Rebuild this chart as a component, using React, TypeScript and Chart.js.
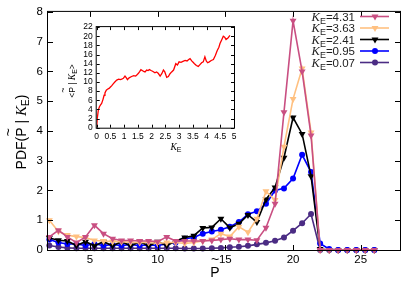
import React, { useEffect, useRef } from "react";
import { Chart, registerables } from "chart.js";
Chart.register(...registerables);

// ---------- data ----------
const pTilde = [2, 2.67, 3.33, 4, 4.67, 5.33, 6, 6.67, 7.33, 8, 8.67, 9.33, 10, 10.67, 11.33, 12, 12.67, 13.33, 14, 14.67, 15.33, 16, 16.67, 17.33, 18, 18.67, 19.33, 20, 20.67, 21.33, 22, 22.67, 23.33, 24, 24.67, 25.33, 26];

const kLabels = ["4.31", "3.63", "2.41", "0.95", "0.07"];

const pdfK431 = [0.44, 0.66, 0.44, 0.25, 0.44, 0.83, 0.55, 0.38, 0.32, 0.32, 0.3, 0.3, 0.28, 0.44, 0.3, 0.3, 0.3, 0.3, 0.32, 0.35, 0.38, 0.35, 0.35, 0.33, 0.75, 1.55, 4.63, 7.7, 6.0, 3.85, 0, 0, 0, 0, 0, 0, 0];
const pdfK363 = [1.0, 0.62, 0.5, 0.45, 0.42, 0.32, 0.3, 0.28, 0.28, 0.25, 0.25, 0.25, 0.22, 0.25, 0.25, 0.22, 0.25, 0.3, 0.35, 0.55, 0.45, 0.78, 0.6, 1.05, 1.97, 1.68, 3.47, 5.07, 6.1, 3.95, 0, 0, 0, 0, 0, 0, 0];
const pdfK241 = [0.4, 0.33, 0.3, 0.15, 0.28, 0.14, 0.28, 0.14, 0.28, 0.14, 0.28, 0.14, 0.28, 0.15, 0.3, 0.42, 0.48, 0.74, 0.76, 1.05, 0.75, 0.88, 1.18, 0.94, 1.7, 2.1, 3.1, 4.45, 3.9, 2.48, 0.03, 0, 0, 0, 0, 0, 0];
const pdfK095 = [0.35, 0.25, 0.2, 0.2, 0.15, 0.2, 0.15, 0.18, 0.15, 0.18, 0.15, 0.17, 0.15, 0.2, 0.25, 0.38, 0.42, 0.55, 0.62, 0.68, 0.78, 0.94, 1.2, 1.3, 1.55, 2.0, 2.07, 2.4, 3.2, 2.62, 0.22, 0.03, 0, 0, 0, 0, 0];
const pdfK007 = [0.15, 0.1, 0.07, 0.06, 0.06, 0.06, 0.06, 0.06, 0.06, 0.06, 0.06, 0.06, 0.06, 0.06, 0.06, 0.05, 0.05, 0.05, 0.06, 0.07, 0.09, 0.11, 0.14, 0.19, 0.24, 0.31, 0.42, 0.65, 0.9, 1.21, 0, 0, 0, 0, 0, 0, 0];

const xTicks = [5, 10, 15, 20, 25];
const yTicks = [0, 1, 2, 3, 4, 5, 6, 7, 8];

const insetK = [
  0, 0.02, 0.06, 0.1, 0.14, 0.18, 0.23, 0.27, 0.3, 0.35,
  0.39, 0.45, 0.5, 0.55, 0.6, 0.66, 0.73, 0.8, 0.86, 0.91,
  0.97, 1.03, 1.08, 1.12, 1.18, 1.27, 1.35, 1.42, 1.46, 1.52,
  1.57, 1.61, 1.66, 1.71, 1.76, 1.82, 1.87, 1.92, 1.98, 2.05,
  2.12, 2.18, 2.24, 2.31, 2.37, 2.43, 2.48, 2.55, 2.61, 2.67,
  2.73, 2.8, 2.88, 2.94, 3.0, 3.07, 3.14, 3.22, 3.29, 3.35,
  3.4, 3.46, 3.51, 3.56, 3.63, 3.7, 3.76, 3.82, 3.88, 3.94,
  3.99, 4.04, 4.1, 4.17, 4.25, 4.32, 4.39, 4.45, 4.49, 4.55,
  4.61, 4.66, 4.71, 4.78, 4.85,
];
const insetP = [
  0, 2.0, 3.9, 4.6, 5.0, 5.3, 6.2, 7.1, 7.6, 8.2,
  8.4, 8.6, 8.9, 9.2, 9.6, 10.0, 10.4, 10.6, 10.5, 10.6,
  10.8, 11.3, 10.9, 10.5, 10.9, 11.2, 11.4, 11.3, 11.5, 11.9,
  12.3, 12.7, 12.5, 12.3, 12.2, 12.6, 12.5, 12.7, 12.5, 12.3,
  12.0, 12.2, 11.9, 11.3, 11.8, 12.6, 12.2, 11.0, 11.2, 11.8,
  12.2, 12.6, 14.0, 13.7, 14.4, 14.3, 14.5, 14.7, 14.6, 14.9,
  15.1, 14.6, 14.3, 14.0, 13.6, 13.4, 13.8, 14.2, 14.4, 15.5,
  14.6, 14.2, 14.4, 14.7, 14.9, 15.8, 16.9, 17.6, 18.4, 19.2,
  20.0, 19.8, 19.3, 19.6, 20.2,
];
const insetXTicks = [0, 0.5, 1, 1.5, 2, 2.5, 3, 3.5, 4, 4.5, 5];
const insetYTicks = [0, 2, 4, 6, 8, 10, 12, 14, 16, 18, 20, 22];

// ---------- styling ----------
const SANS = '"Liberation Sans", Arial, sans-serif';
const SERIF = '"Liberation Serif", "Times New Roman", serif';

const seriesStyle = [
  { color: "#c94f82", tri: true },
  { color: "#ffc080", tri: true },
  { color: "#000000", tri: true },
  { color: "#0000ff", tri: false },
  { color: "#4b2c84", tri: false },
];
const seriesData = [pdfK431, pdfK363, pdfK241, pdfK095, pdfK007];

type Seg = { t: string; size: number; family?: string; italic?: boolean; dy?: number; tilde?: boolean };

function fontOf(s: Seg) {
  return `${s.italic ? "italic " : ""}${s.size}px ${s.family || SANS}`;
}
function segsWidth(ctx: CanvasRenderingContext2D, segs: Seg[]) {
  let w = 0;
  for (const s of segs) {
    ctx.font = fontOf(s);
    w += ctx.measureText(s.t).width;
  }
  return w;
}
function drawSegs(ctx: CanvasRenderingContext2D, segs: Seg[], x: number, y: number) {
  let cx = x;
  ctx.textAlign = "left";
  ctx.textBaseline = "alphabetic";
  for (const s of segs) {
    ctx.font = fontOf(s);
    const w = ctx.measureText(s.t).width;
    ctx.fillText(s.t, cx, y + (s.dy || 0));
    if (s.tilde) {
      const tw = ctx.measureText("~").width;
      ctx.fillText("~", cx + (w - tw) / 2, y - s.size * 0.95);
    }
    cx += w;
  }
}

function drawMarker(ctx: CanvasRenderingContext2D, x: number, y: number, tri: boolean, color: string) {
  ctx.fillStyle = color;
  ctx.beginPath();
  if (tri) {
    const r = 4;
    ctx.moveTo(x, y + r);
    ctx.lineTo(x - r * 0.866, y - r * 0.5);
    ctx.lineTo(x + r * 0.866, y - r * 0.5);
    ctx.closePath();
  } else {
    ctx.arc(x, y, 3, 0, Math.PI * 2);
  }
  ctx.fill();
}

const mainPlugin = {
  id: "mainDecor",
  afterDraw(chart: any) {
    const { ctx, chartArea: a, scales } = chart;
    const xs = scales.x;
    const ys = scales.y;
    ctx.save();
    ctx.strokeStyle = "#000";
    ctx.lineWidth = 1;
    ctx.strokeRect(a.left - 0.5, a.top - 0.5, a.right - a.left + 1, a.bottom - a.top + 1);
    ctx.beginPath();
    for (const v of yTicks) {
      const py = Math.round(ys.getPixelForValue(v)) + 0.5;
      ctx.moveTo(a.left, py); ctx.lineTo(a.left + 5, py);
      ctx.moveTo(a.right, py); ctx.lineTo(a.right - 5, py);
    }
    for (const v of xTicks) {
      const px = Math.round(xs.getPixelForValue(v)) + 0.5;
      ctx.moveTo(px, a.bottom); ctx.lineTo(px, a.bottom - 5);
      ctx.moveTo(px, a.top); ctx.lineTo(px, a.top + 5);
    }
    ctx.stroke();

    // x title
    ctx.fillStyle = "#000";
    const xt: Seg[] = [{ t: "P", size: 14, tilde: true }];
    drawSegs(ctx, xt, 215 - segsWidth(ctx, xt) / 2, 277);

    // y title
    const yt: Seg[] = [
      { t: "PDF(", size: 14 },
      { t: "P", size: 14, tilde: true },
      { t: " | ", size: 14 },
      { t: "K", size: 15, family: SERIF, italic: true },
      { t: "E", size: 10, dy: 3 },
      { t: ")", size: 14 },
    ];
    ctx.save();
    ctx.translate(26, 132);
    ctx.rotate(-Math.PI / 2);
    drawSegs(ctx, yt, -segsWidth(ctx, yt) / 2, 0);
    ctx.restore();

    // legend
    for (let i = 0; i < kLabels.length; i++) {
      const cy = 16.5 + i * 11.5;
      const segs: Seg[] = [
        { t: "K", size: 12.5, family: SERIF, italic: true },
        { t: "E", size: 9, dy: 3 },
        { t: "=" + kLabels[i], size: 11.5 },
      ];
      ctx.fillStyle = "#222";
      drawSegs(ctx, segs, 355 - segsWidth(ctx, segs), cy + 4);
      const st = seriesStyle[i];
      ctx.strokeStyle = st.color;
      ctx.lineWidth = 1.6;
      ctx.beginPath();
      ctx.moveTo(360, cy); ctx.lineTo(389, cy);
      ctx.stroke();
      drawMarker(ctx, 375, cy, st.tri, st.color);
    }
    ctx.restore();
  },
};

const insetPlugin = {
  id: "insetDecor",
  afterDraw(chart: any) {
    const { ctx, chartArea: a, scales } = chart;
    const xs = scales.x;
    const ys = scales.y;
    ctx.save();
    ctx.strokeStyle = "#000";
    ctx.lineWidth = 1;
    ctx.strokeRect(a.left - 0.5, a.top - 0.5, a.right - a.left + 1, a.bottom - a.top + 1);
    ctx.beginPath();
    for (const v of insetYTicks) {
      const py = Math.round(ys.getPixelForValue(v)) + 0.5;
      ctx.moveTo(a.left, py); ctx.lineTo(a.left + 3, py);
      ctx.moveTo(a.right, py); ctx.lineTo(a.right - 3, py);
    }
    for (const v of insetXTicks) {
      const px = Math.round(xs.getPixelForValue(v)) + 0.5;
      ctx.moveTo(px, a.bottom); ctx.lineTo(px, a.bottom - 3);
      ctx.moveTo(px, a.top); ctx.lineTo(px, a.top + 3);
    }
    ctx.stroke();
    ctx.fillStyle = "#000";
    // x title
    const xt: Seg[] = [
      { t: "K", size: 9.5, family: SERIF, italic: true },
      { t: "E", size: 7, dy: 2 },
    ];
    drawSegs(ctx, xt, 120 - segsWidth(ctx, xt) / 2, 132);
    // y title
    const yt: Seg[] = [
      { t: "<", size: 8.5 },
      { t: "P", size: 8.5, tilde: true },
      { t: " | ", size: 8.5 },
      { t: "K", size: 9.5, family: SERIF, italic: true },
      { t: "E", size: 7, dy: 2 },
      { t: ">", size: 8.5 },
    ];
    ctx.save();
    ctx.translate(18.5, 63);
    ctx.rotate(-Math.PI / 2);
    drawSegs(ctx, yt, -segsWidth(ctx, yt) / 2, 0);
    ctx.restore();
    ctx.restore();
  },
};

const noGrid = { display: false, drawTicks: false, tickLength: 0 };

export default function App() {
  const mainRef = useRef<HTMLCanvasElement>(null);
  const insetRef = useRef<HTMLCanvasElement>(null);

  useEffect(() => {
    document.body.style.margin = "0";
    const main = new Chart(mainRef.current!, {
      type: "scatter",
      data: {
        datasets: seriesData.map((d, i) => ({
          label: kLabels[i],
          data: pTilde.map((x, j) => ({ x, y: d[j] })),
          showLine: true,
          borderColor: seriesStyle[i].color,
          backgroundColor: seriesStyle[i].color,
          pointBackgroundColor: seriesStyle[i].color,
          pointBorderColor: seriesStyle[i].color,
          borderWidth: 1.6,
          pointBorderWidth: 0,
          pointStyle: seriesStyle[i].tri ? "triangle" : "circle",
          rotation: seriesStyle[i].tri ? 180 : 0,
          pointRadius: seriesStyle[i].tri ? 4 : 3,
          clip: false as any,
        })),
      },
      options: {
        responsive: false,
        animation: false,
        devicePixelRatio: 1,
        layout: { padding: { top: 8, right: 15, left: 0, bottom: 0 } },
        plugins: { legend: { display: false }, tooltip: { enabled: false } },
        scales: {
          x: {
            type: "linear",
            min: 1.9,
            max: 27.9,
            grid: noGrid,
            border: { display: false },
            afterBuildTicks: (s: any) => { s.ticks = xTicks.map((v) => ({ value: v })); },
            afterFit: (s: any) => { s.height = 41; },
            ticks: { font: { family: SANS, size: 11.5 }, color: "#000", padding: 3, maxRotation: 0 },
          },
          y: {
            type: "linear",
            min: 0,
            max: 8,
            grid: noGrid,
            border: { display: false },
            afterBuildTicks: (s: any) => { s.ticks = yTicks.map((v) => ({ value: v })); },
            afterFit: (s: any) => { s.width = 48; },
            ticks: { font: { family: SANS, size: 11.5 }, color: "#000", padding: 5 },
          },
        },
      },
      plugins: [mainPlugin],
    });

    const inset = new Chart(insetRef.current!, {
      type: "scatter",
      data: {
        datasets: [
          {
            data: insetK.map((k, i) => ({ x: k, y: insetP[i] })),
            showLine: true,
            borderColor: "#ff0000",
            borderWidth: 1.3,
            pointRadius: 0,
          },
        ],
      },
      options: {
        responsive: false,
        animation: false,
        devicePixelRatio: 1,
        layout: { padding: { top: 8.7, right: 10, left: 0, bottom: 0 } },
        plugins: { legend: { display: false }, tooltip: { enabled: false } },
        scales: {
          x: {
            type: "linear",
            min: 0,
            max: 5,
            grid: noGrid,
            border: { display: false },
            afterBuildTicks: (s: any) => { s.ticks = insetXTicks.map((v) => ({ value: v })); },
            afterFit: (s: any) => { s.height = 30.3; },
            ticks: {
              font: { family: SANS, size: 8.5 }, color: "#000", padding: 4, maxRotation: 0, autoSkip: false,
              callback: (v: any) => String(v),
            },
          },
          y: {
            type: "linear",
            min: 0,
            max: 22,
            grid: noGrid,
            border: { display: false },
            afterBuildTicks: (s: any) => { s.ticks = insetYTicks.map((v) => ({ value: v })); },
            afterFit: (s: any) => { s.width = 40.7; },
            ticks: {
              font: { family: SANS, size: 8.5 }, color: "#000", padding: 4, autoSkip: false,
              callback: (v: any) => String(v),
            },
          },
        },
      },
      plugins: [insetPlugin],
    });

    return () => {
      main.destroy();
      inset.destroy();
    };
  }, []);

  return (
    <div style={{ position: "relative", width: 415, height: 291, background: "#fff" }}>
      <canvas ref={mainRef} width={415} height={291} style={{ position: "absolute", left: 0, top: 0 }} />
      <canvas ref={insetRef} width={188} height={140} style={{ position: "absolute", left: 56, top: 18 }} />
    </div>
  );
}
